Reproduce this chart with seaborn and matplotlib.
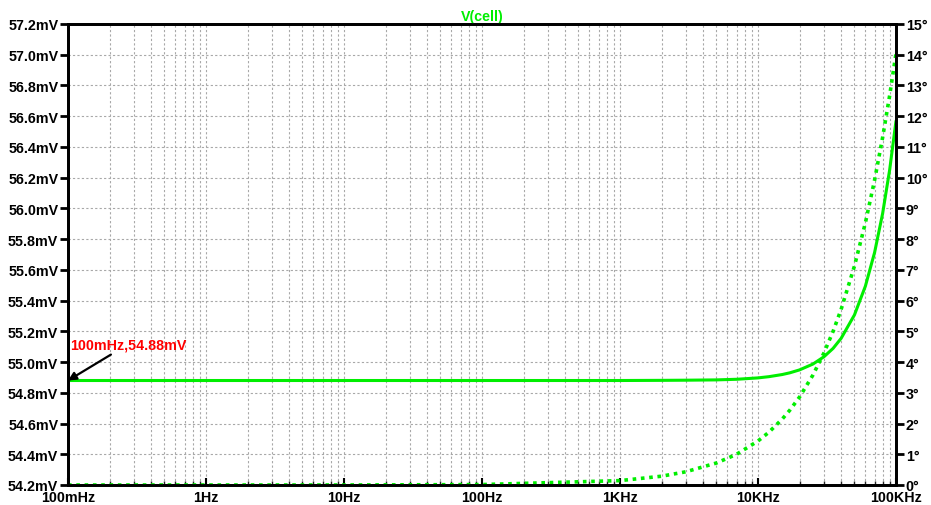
import matplotlib
matplotlib.use("Agg")
import matplotlib.pyplot as plt
import seaborn as sns
import pandas as pd
import numpy as np
from matplotlib.ticker import LogLocator, NullFormatter

# Data
freq_hz = [0.1, 1, 10, 100, 1000, 2000, 3000, 5000, 7000, 10000, 12000, 15000,
           17000, 20000, 25000, 30000, 35000, 40000, 50000, 60000, 70000, 80000,
           90000, 100000]
mag_mv = [54.88, 54.88, 54.88, 54.88, 54.880, 54.881, 54.882, 54.884, 54.888,
          54.897, 54.905, 54.919, 54.930, 54.949, 54.987, 55.034, 55.089,
          55.154, 55.307, 55.494, 55.714, 55.967, 56.252, 56.569]
phase_deg = [0.0, 0.0, 0.0, 0.014, 0.143, 0.286, 0.43, 0.716, 1.00, 1.432,
             1.718, 2.148, 2.433, 2.862, 3.576, 4.289, 5.00, 5.711, 7.125,
             8.531, 9.926, 11.31, 12.68, 14.04]

x_ticks = [0.1, 1, 10, 100, 1000, 10000, 100000]
x_labels = ["100mHz", "1Hz", "10Hz", "100Hz", "1KHz", "10KHz", "100KHz"]
y_left_ticks = [54.2, 54.4, 54.6, 54.8, 55.0, 55.2, 55.4, 55.6, 55.8, 56.0,
                56.2, 56.4, 56.6, 56.8, 57.0, 57.2]
y_right_ticks = list(range(0, 16))
title = "V(cell)"
annot_text = "100mHz,54.88mV"

df = pd.DataFrame({"f": freq_hz, "mag": mag_mv, "phase": phase_deg})

sns.set_theme(style="white")
plt.rcParams["font.family"] = ["Liberation Sans", "DejaVu Sans"]
plt.rcParams["font.weight"] = "bold"

GREEN = "#00ee00"
FS = 10.3
fig = plt.figure(figsize=(9.31, 5.06), dpi=100)
ax = fig.add_axes([68 / 931, 20 / 506, (896 - 68) / 931, (486 - 25) / 506])
ax2 = ax.twinx()

sns.lineplot(data=df, x="f", y="mag", ax=ax, color=GREEN, linewidth=2.2)
sns.lineplot(data=df, x="f", y="phase", ax=ax2, color=GREEN, linewidth=2.6,
             linestyle=(0, (1, 1.3)))
for l in ax2.lines:
    l.set_dash_capstyle("butt")

ax.set_xscale("log")
ax.set_xlim(0.1, 100000)
ax.set_ylim(54.2, 57.2)
ax2.set_ylim(0, 15)

ax.set_xticks(x_ticks)
ax.set_xticklabels(x_labels)
ax.xaxis.set_minor_locator(LogLocator(base=10, subs=np.arange(2, 10)))
ax.xaxis.set_minor_formatter(NullFormatter())
ax.set_yticks(y_left_ticks)
ax.set_yticklabels([f"{v:.1f}mV" for v in y_left_ticks])
ax2.set_yticks(y_right_ticks)
ax2.set_yticklabels([f"{v}°" for v in y_right_ticks])

ax.set_xlabel("")
ax.set_ylabel("")
ax2.set_ylabel("")

grid_kw = dict(color="#a8a8a8", linestyle=(0, (2, 2)), linewidth=0.8)
ax.grid(True, which="major", axis="both", **grid_kw)
ax.grid(True, which="minor", axis="x", **grid_kw)
ax.set_axisbelow(True)

for a in (ax, ax2):
    for s in a.spines.values():
        s.set_color("black")
        s.set_linewidth(2.0)

ax.tick_params(axis="y", which="major", direction="out", length=6, width=2,
               labelsize=FS, colors="black", pad=1, left=True)
ax2.tick_params(axis="y", which="major", direction="out", length=6, width=2,
                labelsize=FS, colors="black", pad=1, right=True)
ax.tick_params(axis="x", which="major", direction="in", length=5, width=1.5,
               labelsize=FS, colors="black", pad=3.5, bottom=True)
ax.tick_params(axis="x", which="minor", direction="in", length=3, width=1,
               bottom=True)
for lab in ax.get_yticklabels() + ax2.get_yticklabels() + ax.get_xticklabels():
    lab.set_fontweight("bold")

ax.set_title(title, color=GREEN, fontsize=FS, fontweight="bold", pad=3)

ax.annotate(annot_text, xy=(0.1, 54.88), xytext=(0.103, 55.07),
            color="red", fontsize=FS, fontweight="bold",
            arrowprops=dict(arrowstyle="-|>", color="black", lw=1.6,
                            shrinkA=0, shrinkB=0, mutation_scale=12),
            ha="left", va="bottom")

fig.savefig("out.png", dpi=100)
